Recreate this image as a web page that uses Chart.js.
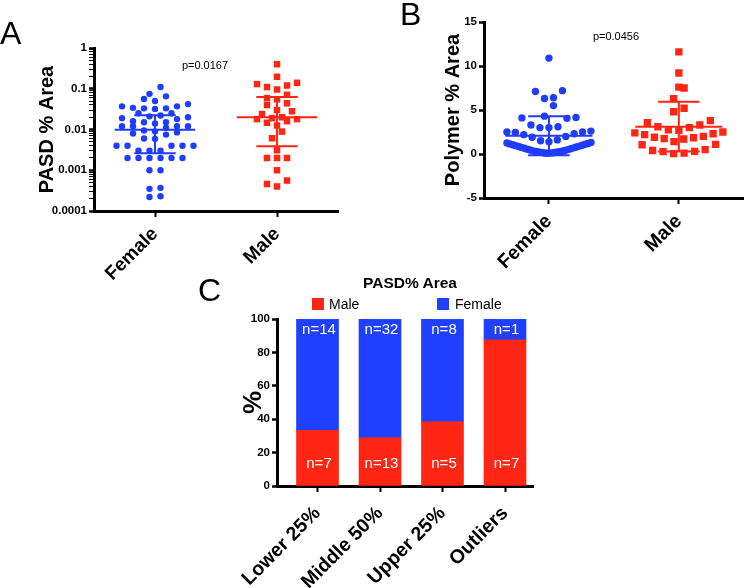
<!DOCTYPE html>
<html lang="en">
<head>
    <meta charset="UTF-8">
    <title>PASD and Polymer % Area by sex</title>
    <script src="https://cdn.jsdelivr.net/npm/chart.js"></script>
    <style>
        body { margin: 0; background: #fff; font-family: 'Liberation Sans', Arial, sans-serif; color: #000; }
        .master { position: relative; width: 749px; height: 588px; overflow: hidden; }
        .panel { position: absolute; }
        .letter { position: absolute; font-size: 32px; line-height: 1; z-index: 2; }
        .pval { position: absolute; font-size: 11px; line-height: 1; transform: translate(-50%, -50%); z-index: 2; }
        #legendC { position: absolute; left: 0; top: 0; width: 749px; z-index: 2; }
        #legendC .ttl { position: absolute; left: 410px; top: 283px; transform: translate(-50%, -50%); font-size: 15.5px; font-weight: bold; white-space: nowrap; }
        #legendC .box { position: absolute; width: 12px; height: 12px; top: 298px; }
        #legendC .lab { position: absolute; top: 304px; transform: translateY(-50%); font-size: 14px; }
    </style>
</head>
<body>
<div class="master">
    <div class="letter" style="left:0px; top:17px;">A</div>
    <div class="letter" style="left:400px; top:-2px;">B</div>
    <div class="letter" style="left:198px; top:274px;">C</div>

    <div class="panel" style="left:0px; top:0px;"><canvas id="chartA" width="345" height="290"></canvas></div>
    <div class="panel" style="left:370px; top:0px;"><canvas id="chartB" width="379" height="290"></canvas></div>
    <div class="panel" style="left:180px; top:270px;"><canvas id="chartC" width="375" height="318"></canvas></div>

    <div class="pval" style="left:205px; top:65px;">p=0.0167</div>
    <div class="pval" style="left:616px; top:36px;">p=0.0456</div>

    <div id="legendC">
        <div class="ttl">PASD% Area</div>
        <div class="box" style="left:312px; background:#ff2614;"></div>
        <div class="lab" style="left:329px;">Male</div>
        <div class="box" style="left:437px; background:#2040ff;"></div>
        <div class="lab" style="left:455px;">Female</div>
    </div>
</div>

<script>
    // ---- data ----
    const groups = ['Female', 'Male'];

    // A: PASD % Area (log scale)
    const pasdFemale = [0.11, 0.075, 0.065, 0.056, 0.05, 0.042, 0.037, 0.037, 0.034, 0.033, 0.033, 0.032,
        0.025, 0.025, 0.022, 0.021, 0.02, 0.019, 0.018, 0.016, 0.015, 0.015, 0.014, 0.012, 0.012, 0.012, 0.012,
        0.011, 0.0095, 0.009, 0.0085, 0.008, 0.0075, 0.006, 0.0059, 0.004, 0.004, 0.004, 0.004, 0.004,
        0.003, 0.003, 0.003, 0.002, 0.002, 0.002, 0.002, 0.002, 0.002, 0.001, 0.001,
        0.00037, 0.00035, 0.00023, 0.00022];
    const pasdMale = [0.40, 0.197, 0.14, 0.13, 0.12, 0.11, 0.096, 0.071, 0.059, 0.055, 0.044, 0.04,
        0.03, 0.028, 0.024, 0.02, 0.019, 0.018, 0.018, 0.016, 0.0146, 0.0125, 0.0089, 0.0061, 0.0031,
        0.002, 0.002, 0.002, 0.001, 0.00056, 0.00046, 0.0004];
    const pasdMean = [0.0098, 0.020];
    const pasdLow = [0.0026, 0.0039];
    const pasdHigh = [0.0224, 0.063];
    const pasdTicks = [0.0001, 0.001, 0.01, 0.1, 1];

    // B: Polymer % Area
    const polyFemale = [10.9, 7.2, 7.1, 6.4, 6.3, 5.5, 4.3, 4.15, 4.1, 4.05, 3.3, 3.1, 3.0, 3.0,
        2.6, 2.5, 2.5, 2.45, 2.3, 2.2, 2.0, 1.9, 1.6, 1.5, 1.4, 1.3,
        1.25, 1.2, 1.15, 1.1, 1.05, 1.0, 0.95, 0.9, 0.85, 0.8, 0.75, 0.7, 0.65, 0.6, 0.55, 0.5,
        0.45, 0.4, 0.36, 0.32, 0.28, 0.25, 0.22, 0.2, 0.18, 0.15, 0.12, 0.1, 0.08];
    const polyMale = [11.6, 9.2, 7.6, 7.5, 6.3, 5.2, 4.8, 3.8, 3.55, 3.3, 3.1, 3.0, 2.75, 2.7, 2.5,
        2.4, 2.3, 2.2, 2.0, 1.9, 1.85, 1.75, 1.7, 1.4, 1.1, 1.05, 0.5, 0.4, 0.3, 0.27, 0.1, 0.05];
    const polyMean = [2.07, 3.1];
    const polyLow = [-0.15, 0.27];
    const polyHigh = [4.3, 5.95];

    // C: PASD% Area split into ranges
    const ranges = ['Lower 25%', 'Middle 50%', 'Upper 25%', 'Outliers'];
    const maleN = [7, 13, 5, 7];
    const femaleN = [14, 32, 8, 1];

    const BLUE = '#1f3cff';
    const RED = '#ff2614';
    const FONT = "'Liberation Sans', Arial, sans-serif";

    Chart.defaults.font.family = FONT;
    Chart.defaults.color = '#000';
    Chart.defaults.animation = false;
    Chart.defaults.events = [];
    Chart.defaults.plugins.legend.display = false;
    Chart.defaults.plugins.tooltip.enabled = false;

    // mean line + error caps + stem, separated by gaps
    function errBars(c, mean, lo, hi, wide, cap) {
        return [
            {x: c - wide, y: mean}, {x: c + wide, y: mean}, {x: c, y: null},
            {x: c - cap, y: hi}, {x: c + cap, y: hi}, {x: c, y: null},
            {x: c - cap, y: lo}, {x: c + cap, y: lo}, {x: c, y: null},
            {x: c, y: lo}, {x: c, y: hi}
        ];
    }

    // prism-like scatter: group close values in rows, spread each row sideways
    function swarm(values, center, chart, o) {
        const xs = chart.scales.x, ys = chart.scales.y;
        const cx = xs.getPixelForValue(center);
        const sorted = values.slice().sort((a, b) => a - b);
        const out = [];
        let row = [];
        let startPx = 0;
        const flush = () => {
            const n = row.length;
            const gap = n > 1 ? Math.min(o.gap, 2 * o.half / (n - 1)) : 0;
            const slots = [];
            for (let i = 0; i < n; i++) slots.push((i - (n - 1) / 2) * gap);
            slots.sort((a, b) => Math.abs(a) - Math.abs(b) || a - b);
            row.forEach((v, i) => out.push({x: xs.getValueForPixel(cx + slots[i]), y: v}));
            row = [];
        };
        sorted.forEach(v => {
            const py = ys.getPixelForValue(v);
            if (row.length && startPx - py > o.rowPx) flush();
            if (!row.length) startPx = py;
            row.push(v);
        });
        if (row.length) flush();
        return out;
    }

    function groupAxis(fontSize, height) {
        return {
            type: 'linear', min: -0.5, max: 1.5, offset: false,
            afterBuildTicks: s => { s.ticks = [{value: 0}, {value: 1}]; },
            afterFit: s => { s.height = height; },
            ticks: {
                autoSkip: false, minRotation: 45, maxRotation: 45, padding: 6,
                font: {size: fontSize, weight: 'bold'},
                callback: v => groups[v]
            },
            grid: {drawOnChartArea: false, drawTicks: true, tickLength: 6, tickWidth: 2, tickColor: '#000', color: '#000', offset: false},
            border: {display: true, color: '#000', width: 3}
        };
    }

    function scatterSets(mean, lo, hi, fem, mal, rFem, rMal, wide, cap) {
        return [
            {type: 'line', data: errBars(0, mean[0], lo[0], hi[0], wide, cap), borderColor: BLUE, borderWidth: 2, pointRadius: 0, spanGaps: false, order: 0},
            {type: 'line', data: errBars(1, mean[1], lo[1], hi[1], wide, cap), borderColor: RED, borderWidth: 2, pointRadius: 0, spanGaps: false, order: 0},
            {label: 'Female', data: fem.map(v => ({x: 0, y: v})), pointStyle: 'circle', pointRadius: rFem,
                pointBackgroundColor: BLUE, pointBorderWidth: 0, order: 1},
            {label: 'Male', data: mal.map(v => ({x: 1, y: v})), pointStyle: 'rect', pointRadius: rMal,
                pointBackgroundColor: RED, pointBorderWidth: 0, order: 1}
        ];
    }

    // ---- A ----
    const logTicks = [];
    pasdTicks.forEach((t, i) => {
        logTicks.push(t);
        if (i < pasdTicks.length - 1) for (let k = 2; k <= 9; k++) logTicks.push(k * t);
    });
    const isMajor = v => pasdTicks.some(t => Math.abs(t - v) < t * 1e-6);

    const chartA = new Chart(document.getElementById('chartA').getContext('2d'), {
        type: 'scatter',
        data: {datasets: scatterSets(pasdMean, pasdLow, pasdHigh, pasdFemale, pasdMale, 3.2, 4.6, 0.33, 0.17)},
        options: {
            responsive: false,
            layout: {padding: {top: 48, right: 7, left: 0, bottom: 0}},
            scales: {
                x: groupAxis(19, 79),
                y: {
                    type: 'logarithmic', min: 0.0001, max: 1,
                    afterBuildTicks: s => { s.ticks = logTicks.map(v => ({value: v})); },
                    afterFit: s => { s.width = 94; },
                    ticks: {autoSkip: false, padding: 2, font: {size: 11.5, weight: 'bold'},
                        callback: v => isMajor(v) ? String(v) : ''},
                    grid: {drawOnChartArea: false, drawTicks: true, tickLength: 5, tickColor: '#000', color: '#000',
                        tickWidth: c => isMajor(c.tick.value) ? 2.5 : 1},
                    border: {display: true, color: '#000', width: 3},
                    title: {display: true, text: 'PASD % Area', font: {size: 20, weight: 'bold'}, padding: {top: 35, bottom: 0}}
                }
            }
        }
    });
    chartA.data.datasets[2].data = swarm(pasdFemale, 0, chartA, {gap: 11, half: 41, rowPx: 7});
    chartA.data.datasets[3].data = swarm(pasdMale, 1, chartA, {gap: 10, half: 30, rowPx: 7});
    chartA.update('none');

    // ---- B ----
    const chartB = new Chart(document.getElementById('chartB').getContext('2d'), {
        type: 'scatter',
        data: {datasets: scatterSets(polyMean, polyLow, polyHigh, polyFemale, polyMale, 3.7, 5.2, 0.335, 0.16)},
        options: {
            responsive: false,
            layout: {padding: {top: 22, right: 2, left: 0, bottom: 0}},
            scales: {
                x: groupAxis(19.5, 92),
                y: {
                    min: -5, max: 15,
                    afterFit: s => { s.width = 114; },
                    ticks: {stepSize: 5, padding: 2, font: {size: 11.5, weight: 'bold'}},
                    grid: {drawOnChartArea: false, drawTicks: true, tickLength: 5, tickWidth: 2.5, tickColor: '#000', color: '#000'},
                    border: {display: true, color: '#000', width: 3},
                    title: {display: true, text: 'Polymer % Area', font: {size: 20, weight: 'bold'}, padding: {top: 71, bottom: 0}}
                }
            }
        }
    });
    chartB.data.datasets[2].data = swarm(polyFemale, 0, chartB, {gap: 9, half: 42, rowPx: 11});
    chartB.data.datasets[3].data = swarm(polyMale, 1, chartB, {gap: 10.5, half: 44, rowPx: 11});
    chartB.update('none');

    // ---- C ----
    const malePct = maleN.map((m, i) => m / (m + femaleN[i]) * 100);
    const femalePct = malePct.map(p => 100 - p);

    const nLabels = {
        id: 'nLabels',
        afterDatasetsDraw(chart) {
            const ctx = chart.ctx;
            ctx.save();
            ctx.fillStyle = '#fff';
            ctx.font = '15px ' + FONT;
            ctx.textAlign = 'center';
            ctx.textBaseline = 'middle';
            chart.getDatasetMeta(0).data.forEach((bar, i) => ctx.fillText('n=' + maleN[i], bar.x + 1.5, bar.base - 22));
            chart.getDatasetMeta(1).data.forEach((bar, i) => ctx.fillText('n=' + femaleN[i], bar.x + 1.5, bar.y + 11));
            ctx.restore();
        }
    };

    new Chart(document.getElementById('chartC').getContext('2d'), {
        type: 'bar',
        data: {
            datasets: [
                {label: 'Male', data: malePct.map((v, i) => ({x: i, y: v})), backgroundColor: RED, barThickness: 42},
                {label: 'Female', data: femalePct.map((v, i) => ({x: i, y: v})), backgroundColor: '#2040ff', barThickness: 42}
            ]
        },
        options: {
            responsive: false,
            layout: {padding: {top: 49, right: 22, left: 0, bottom: 0}},
            scales: {
                x: {
                    type: 'linear', stacked: true, min: -0.648, max: 3.448, offset: false,
                    afterBuildTicks: s => { s.ticks = ranges.map((r, i) => ({value: i})); },
                    afterFit: s => { s.height = 102; },
                    ticks: {autoSkip: false, minRotation: 45, maxRotation: 45, padding: 10,
                        font: {size: 19.5, weight: 'bold'}, callback: v => ranges[v]},
                    grid: {drawOnChartArea: false, drawTicks: true, tickLength: 6, tickWidth: 2, tickColor: '#000', color: '#000', offset: false},
                    border: {display: true, color: '#000', width: 3}
                },
                y: {
                    stacked: true, min: 0, max: 100,
                    afterFit: s => { s.width = 97; },
                    ticks: {stepSize: 20, padding: 2, font: {size: 11.5, weight: 'bold'}},
                    grid: {drawOnChartArea: false, drawTicks: true, tickLength: 5, tickWidth: 2.5, tickColor: '#000', color: '#000'},
                    border: {display: true, color: '#000', width: 3},
                    title: {display: true, text: '%', font: {size: 26, weight: 'bold'}, padding: {top: 58, bottom: 0}}
                }
            }
        },
        plugins: [nLabels]
    });
</script>
</body>
</html>
